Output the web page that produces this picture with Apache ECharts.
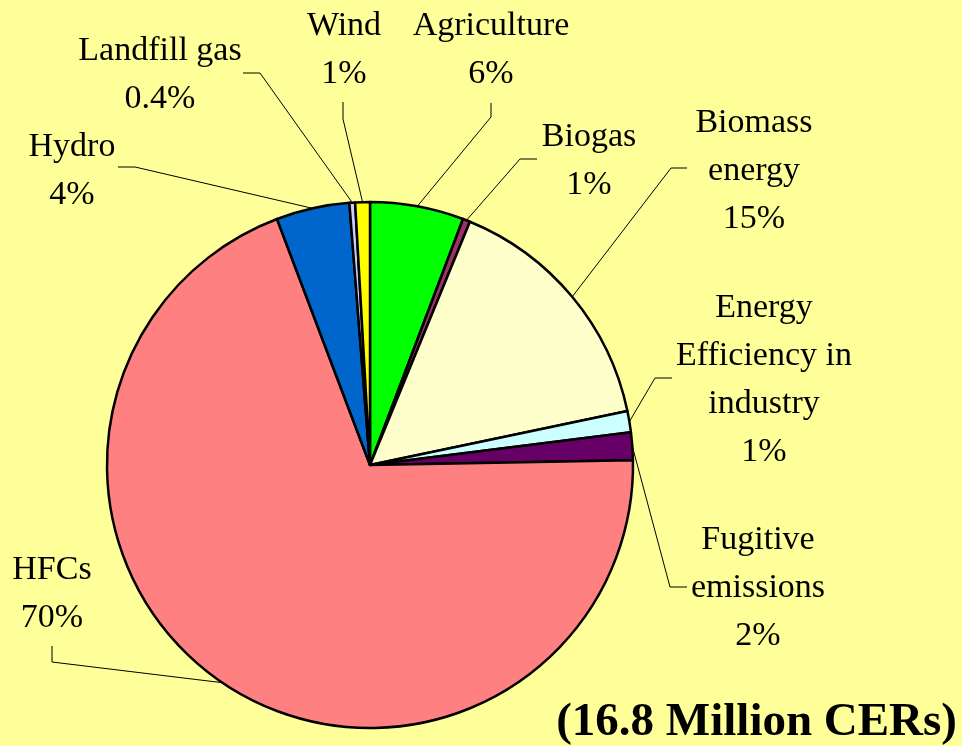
<!DOCTYPE html>
<html>
<head>
<meta charset="utf-8">
<script src="https://cdn.jsdelivr.net/npm/echarts@6/dist/echarts.min.js"></script>
<style>
html,body{margin:0;padding:0;background:#FFFF99;}
#chart{width:962px;height:746px;}
</style>
</head>
<body>
<div id="chart"></div>
<script>
// ---- data ----
var categories = ['Agriculture', 'Biogas', 'Biomass\nenergy', 'Energy\nEfficiency in\nindustry', 'Fugitive\nemissions', 'HFCs', 'Hydro', 'Landfill gas', 'Wind'];
var shares = [5.75, 0.45, 15.5, 1.3, 1.7, 69.5, 4.5, 0.35, 0.9];
var pctLabels = ['6%', '1%', '15%', '1%', '2%', '70%', '4%', '0.4%', '1%'];
var colors = ['#00FF00', '#993366', '#FFFFCC', '#CCFFFF', '#660066', '#FF8080', '#0066CC', '#CCCCFF', '#FFFF00'];
var titleText = '(16.8 Million CERs)';

// ---- label layout (text block centre, leader elbow, leader end) ----
var labelPos = [
  {x: 491, y: 50,  elbow: [491, 117], end: [491, 103]},
  {x: 589, y: 161, elbow: [520, 159], end: [537, 159]},
  {x: 754, y: 171, elbow: [671, 168], end: [687, 168]},
  {x: 764, y: 380, elbow: [655, 378], end: [672, 378]},
  {x: 758, y: 588, elbow: [670, 587], end: [687, 587]},
  {x: 52,  y: 594, elbow: [52, 662],  end: [52, 646]},
  {x: 72,  y: 171, elbow: [135, 167], end: [118, 167]},
  {x: 160, y: 75,  elbow: [260, 73],  end: [243, 73]},
  {x: 344, y: 50,  elbow: [343, 119], end: [343, 102]}
];

var CX = 370, CY = 465, R = 263;

var chart = echarts.init(document.getElementById('chart'), null, {renderer: 'canvas'});
var data = categories.map(function (c, i) {
  return {name: c, value: shares[i], itemStyle: {color: colors[i]}};
});

chart.setOption({
  backgroundColor: '#FFFF99',
  animation: false,
  title: {
    text: titleText,
    right: 0,
    top: 692,
    textStyle: {fontFamily: 'Liberation Serif', fontWeight: 'bold', fontSize: 47, color: '#000', lineHeight: 52}
  },
  series: [{
    type: 'pie',
    center: [CX, CY],
    radius: [0, R],
    startAngle: 90,
    clockwise: true,
    avoidLabelOverlap: false,
    minAngle: 0,
    data: data,
    itemStyle: {borderColor: '#000', borderWidth: 2.5},
    emphasis: {disabled: true},
    label: {
      show: true,
      position: 'outside',
      formatter: function (p) { return p.name + '\n' + pctLabels[p.dataIndex]; },
      fontFamily: 'Liberation Serif',
      fontSize: 34,
      lineHeight: 48,
      color: '#000',
      align: 'center'
    },
    labelLine: {show: true, length: 10, length2: 10, lineStyle: {color: '#000', width: 1}},
    labelLayout: function (params) {
      var lp = labelPos[params.dataIndex];
      var start;
      if (params.labelLinePoints && params.labelLinePoints[0]) {
        start = params.labelLinePoints[0];
      } else {
        start = [CX, CY];
      }
      return {
        x: lp.x,
        y: lp.y,
        align: 'center',
        verticalAlign: 'middle',
        labelLinePoints: [start, lp.elbow, lp.end]
      };
    }
  }]
});
</script>
</body>
</html>
